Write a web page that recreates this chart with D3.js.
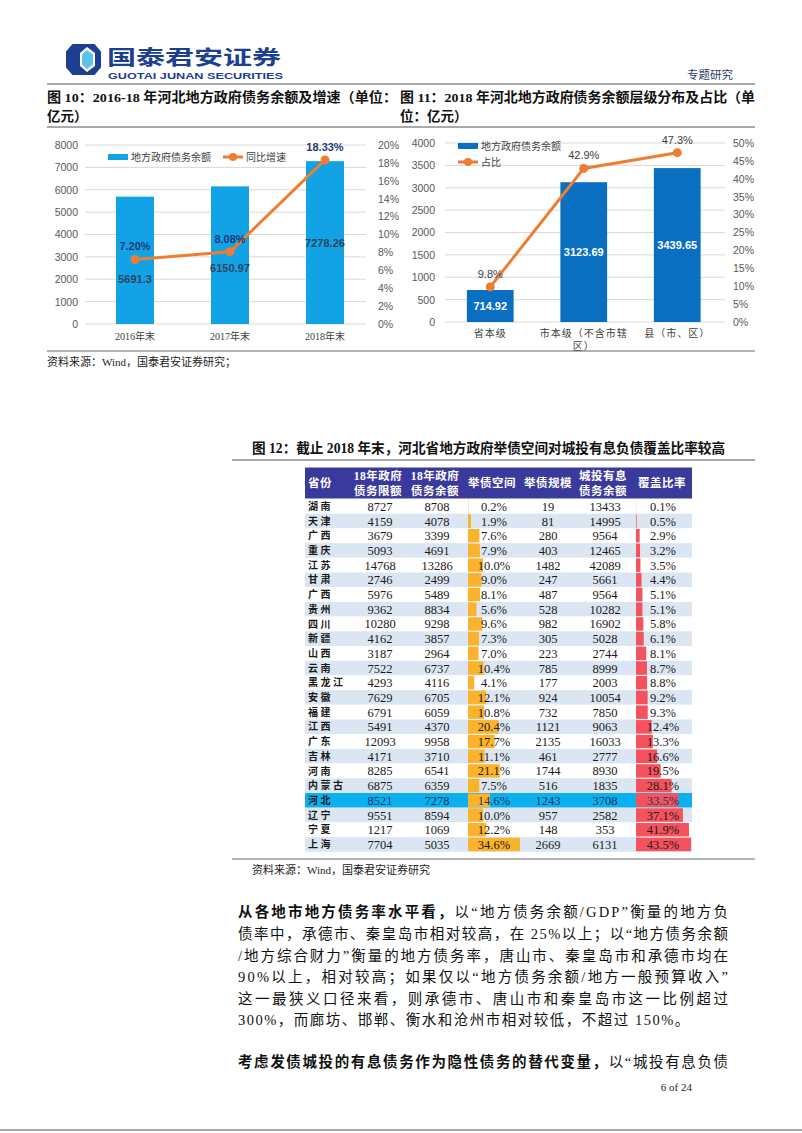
<!DOCTYPE html>
<html>
<head>
<meta charset="utf-8">
<style>
  body { margin: 0; background: #fff; }
  svg { display: block; }
  .yax .tick text { font-family: "Liberation Sans", Arial, sans-serif; font-size: 10.5px; fill: #595959; }
  .xax .tick text { font-family: "Liberation Serif", "Noto Sans CJK SC", serif; font-size: 10px; fill: #404040; }
</style>
</head>
<body>
<script src="https://d3js.org/d3.v7.min.js"></script>
<script>
// ---- figure 10: debt balance and growth
var years = ["2016年末", "2017年末", "2018年末"];
var balance = [5691.3, 6150.97, 7278.26];
var growth = [7.20, 8.08, 18.33];
var balanceTicks = [0, 1000, 2000, 3000, 4000, 5000, 6000, 7000, 8000];
var growthTicks = [0, 2, 4, 6, 8, 10, 12, 14, 16, 18, 20];

// ---- figure 11: balance by government level
var levels = ["省本级", "市本级（不含市辖区）", "县（市、区）"];
var levelBalance = [714.92, 3123.69, 3439.65];
var levelShare = [9.8, 42.9, 47.3];
var levelTicks = [0, 500, 1000, 1500, 2000, 2500, 3000, 3500, 4000];
var shareTicks = [0, 5, 10, 15, 20, 25, 30, 35, 40, 45, 50];

// ---- figure 12: table
var provinces = ["湖南", "天津", "广西", "重庆", "江苏", "甘肃", "广西", "贵州", "四川", "新疆", "山西", "云南",
  "黑龙江", "安徽", "福建", "江西", "广东", "吉林", "河南", "内蒙古", "河北", "辽宁", "宁夏", "上海"];
var debtLimit = [8727, 4159, 3679, 5093, 14768, 2746, 5976, 9362, 10280, 4162, 3187, 7522,
  4293, 7629, 6791, 5491, 12093, 4171, 8285, 6875, 8521, 9551, 1217, 7704];
var debtBalance = [8708, 4078, 3399, 4691, 13286, 2499, 5489, 8834, 9298, 3857, 2964, 6737,
  4116, 6705, 6059, 4370, 9958, 3710, 6541, 6359, 7278, 8594, 1069, 5035];
var spaceRatio = [0.2, 1.9, 7.6, 7.9, 10.0, 9.0, 8.1, 5.6, 9.6, 7.3, 7.0, 10.4,
  4.1, 12.1, 10.8, 20.4, 17.7, 11.1, 21.1, 7.5, 14.6, 10.0, 12.2, 34.6];
var spaceSize = [19, 81, 280, 403, 1482, 247, 487, 528, 982, 305, 223, 785,
  177, 924, 732, 1121, 2135, 461, 1744, 516, 1243, 957, 148, 2669];
var lgfvDebt = [13433, 14995, 9564, 12465, 42089, 5661, 9564, 10282, 16902, 5028, 2744, 8999,
  2003, 10054, 7850, 9063, 16033, 2777, 8930, 1835, 3708, 2582, 353, 6131];
var coverRatio = [0.1, 0.5, 2.9, 3.2, 3.5, 4.4, 5.1, 5.1, 5.8, 6.1, 8.1, 8.7,
  8.8, 9.2, 9.3, 12.4, 13.3, 16.6, 19.5, 28.1, 33.5, 37.1, 41.9, 43.5];
var highlight = "河北";

var serif = '"Liberation Serif", "Noto Sans CJK SC", serif';
var cjk = '"Noto Sans CJK SC", sans-serif';
var sans = '"Liberation Sans", Arial, sans-serif';
var orange = "#ed7d31";

var svg = d3.select("body").append("svg")
    .attr("width", 802)
    .attr("height", 1133);

// ---------------- page header ----------------
var logo = svg.append("g");
logo.append("polygon")
    .attr("points", "73,45 94,45 100,52 100,67 94,74 73,74 67,67 67,52")
    .attr("fill", "#1d3f8f").attr("stroke", "#1d3f8f").attr("stroke-width", 2).attr("stroke-linejoin", "round");
logo.append("polygon")
    .attr("points", "87,47 95,53 95,66 87,72 80,66 80,53")
    .attr("fill", "#fff");
logo.append("polygon")
    .attr("points", "87,50 93,54.5 93,64.5 87,69 82,64.5 82,54.5")
    .attr("fill", "#5cc3ea");
svg.append("text")
    .attr("x", 107).attr("y", 65)
    .attr("textLength", 174).attr("lengthAdjust", "spacingAndGlyphs")
    .style("font-family", cjk).style("font-weight", 700).style("font-size", "20px")
    .attr("fill", "#1d3f8f")
    .text("国泰君安证券");
svg.append("text")
    .attr("x", 108).attr("y", 79)
    .attr("textLength", 175).attr("lengthAdjust", "spacingAndGlyphs")
    .style("font-family", sans).style("font-weight", 700).style("font-size", "8.5px")
    .attr("fill", "#1d3f8f")
    .text("GUOTAI JUNAN SECURITIES");
svg.append("text")
    .attr("x", 733).attr("y", 79).attr("text-anchor", "end")
    .style("font-family", cjk).style("font-size", "11.5px")
    .attr("fill", "#2b3a6b")
    .text("专题研究");
svg.append("line").attr("x1", 47).attr("x2", 755).attr("y1", 84).attr("y2", 84)
    .attr("stroke", "#555").attr("stroke-width", 1.2);

// figure titles
function boldTitle(x, y, txt, len) {
    var t = svg.append("text")
        .attr("x", x).attr("y", y)
        .style("font-family", serif).style("font-weight", 700).style("font-size", "13.5px")
        .attr("fill", "#111")
        .text(txt);
    if (len) t.attr("textLength", len).attr("lengthAdjust", "spacingAndGlyphs");
    return t;
}
boldTitle(47, 102, "图 10：2016-18 年河北地方政府债务余额及增速（单位：", 350);
boldTitle(47, 121, "亿元）");
boldTitle(400, 102, "图 11：2018 年河北地方政府债务余额层级分布及占比（单", 355);
boldTitle(400, 121, "位：亿元）");
svg.append("line").attr("x1", 47).attr("x2", 755).attr("y1", 127).attr("y2", 127)
    .attr("stroke", "#555").attr("stroke-width", 1);

// ---------------- figure 10 ----------------
var x10 = d3.scaleBand().domain(years).range([87.5, 372.5]).paddingInner(0.6).paddingOuter(0.3);
var y10 = d3.scaleLinear().domain([0, 8000]).range([324, 145]);
var y10r = d3.scaleLinear().domain([0, 20]).range([324, 145]);
var c10 = svg.append("g");

c10.selectAll(".grid").data(balanceTicks).enter().append("line")
    .attr("x1", 85).attr("x2", 366)
    .attr("y1", function(d) { return y10(d); })
    .attr("y2", function(d) { return y10(d); })
    .attr("stroke", "#d9d9d9").attr("stroke-width", 1);

c10.append("g").attr("class", "yax")
    .attr("transform", "translate(85,0)")
    .call(d3.axisLeft(y10).tickValues(balanceTicks).tickSize(0).tickPadding(7).tickFormat(d3.format("d")))
    .call(function(g) { g.select(".domain").remove(); });
c10.append("g").attr("class", "yax")
    .attr("transform", "translate(370,0)")
    .call(d3.axisRight(y10r).tickValues(growthTicks).tickSize(0).tickPadding(8)
        .tickFormat(function(d) { return d + "%"; }))
    .call(function(g) { g.select(".domain").remove(); });
c10.append("g").attr("class", "xax")
    .attr("transform", "translate(0,324)")
    .call(d3.axisBottom(x10).tickSize(0).tickPadding(9))
    .call(function(g) { g.select(".domain").remove(); });

c10.selectAll(".bar").data(balance).enter().append("rect")
    .attr("x", function(d, i) { return x10(years[i]); })
    .attr("width", x10.bandwidth())
    .attr("y", function(d) { return y10(d); })
    .attr("height", function(d) { return y10(0) - y10(d); })
    .attr("fill", "#12a3e6");

var line10 = d3.line()
    .x(function(d, i) { return x10(years[i]) + x10.bandwidth() / 2; })
    .y(function(d) { return y10r(d); });
c10.append("path").datum(growth)
    .attr("d", line10)
    .attr("fill", "none").attr("stroke", orange).attr("stroke-width", 3);
c10.selectAll(".dot").data(growth).enter().append("circle")
    .attr("cx", function(d, i) { return x10(years[i]) + x10.bandwidth() / 2; })
    .attr("cy", function(d) { return y10r(d); })
    .attr("r", 4.5).attr("fill", orange);

c10.selectAll(".pct").data(growth).enter().append("text")
    .attr("x", function(d, i) { return x10(years[i]) + x10.bandwidth() / 2; })
    .attr("y", function(d) { return y10r(d) - 13; })
    .attr("dy", "0.35em").attr("text-anchor", "middle")
    .style("font-family", sans).style("font-weight", 700).style("font-size", "11px")
    .attr("fill", "#1f3a78")
    .text(function(d) { return d.toFixed(2) + "%"; });
c10.selectAll(".val").data(balance).enter().append("text")
    .attr("x", function(d, i) { return x10(years[i]) + x10.bandwidth() / 2; })
    .attr("y", function(d) { return y10(d) + 82; })
    .attr("dy", "0.35em").attr("text-anchor", "middle")
    .style("font-family", sans).style("font-weight", 700).style("font-size", "11px")
    .attr("fill", "#2a4460")
    .text(function(d) { return d; });

// legend 10
c10.append("rect").attr("x", 108).attr("y", 154).attr("width", 20).attr("height", 6).attr("fill", "#12a3e6");
c10.append("text").attr("x", 131).attr("y", 157).attr("dy", "0.35em")
    .style("font-family", cjk).style("font-size", "10px").attr("fill", "#404040")
    .text("地方政府债务余额");
c10.append("line").attr("x1", 223).attr("x2", 243).attr("y1", 157).attr("y2", 157)
    .attr("stroke", orange).attr("stroke-width", 3);
c10.append("circle").attr("cx", 233).attr("cy", 157).attr("r", 4).attr("fill", orange);
c10.append("text").attr("x", 246).attr("y", 157).attr("dy", "0.35em")
    .style("font-family", cjk).style("font-size", "10px").attr("fill", "#404040")
    .text("同比增速");

// ---------------- figure 11 ----------------
var x11 = d3.scaleBand().domain(levels).range([443.5, 724]).paddingInner(0.5).paddingOuter(0.25);
var y11 = d3.scaleLinear().domain([0, 4000]).range([322, 143]);
var y11r = d3.scaleLinear().domain([0, 50]).range([322, 143]);
var c11 = svg.append("g");

c11.selectAll(".grid").data(levelTicks).enter().append("line")
    .attr("x1", 445).attr("x2", 725)
    .attr("y1", function(d) { return y11(d); })
    .attr("y2", function(d) { return y11(d); })
    .attr("stroke", "#d9d9d9").attr("stroke-width", 1);

c11.append("g").attr("class", "yax")
    .attr("transform", "translate(443,0)")
    .call(d3.axisLeft(y11).tickValues(levelTicks).tickSize(0).tickPadding(8).tickFormat(d3.format("d")))
    .call(function(g) { g.select(".domain").remove(); });
c11.append("g").attr("class", "yax")
    .attr("transform", "translate(725,0)")
    .call(d3.axisRight(y11r).tickValues(shareTicks).tickSize(0).tickPadding(8)
        .tickFormat(function(d) { return d + "%"; }))
    .call(function(g) { g.select(".domain").remove(); });
var xax11 = c11.append("g").attr("class", "xax")
    .attr("transform", "translate(0,322)")
    .call(d3.axisBottom(x11).tickSize(0).tickPadding(8))
    .call(function(g) { g.select(".domain").remove(); });
// wrap long category labels after 8 characters
xax11.selectAll(".tick text").style("letter-spacing", "1px").each(function(d) {
    var t = d3.select(this);
    if (d.length > 8) {
        t.text(null);
        t.append("tspan").attr("x", 0).text(d.slice(0, 8));
        t.append("tspan").attr("x", 0).attr("dy", "1.3em").text(d.slice(8));
    }
});

c11.selectAll(".bar").data(levelBalance).enter().append("rect")
    .attr("x", function(d, i) { return x11(levels[i]); })
    .attr("width", x11.bandwidth())
    .attr("y", function(d) { return y11(d); })
    .attr("height", function(d) { return y11(0) - y11(d); })
    .attr("fill", "#0a6fc1");

var line11 = d3.line()
    .x(function(d, i) { return x11(levels[i]) + x11.bandwidth() / 2; })
    .y(function(d) { return y11r(d); });
c11.append("path").datum(levelShare)
    .attr("d", line11)
    .attr("fill", "none").attr("stroke", orange).attr("stroke-width", 3);
c11.selectAll(".dot").data(levelShare).enter().append("circle")
    .attr("cx", function(d, i) { return x11(levels[i]) + x11.bandwidth() / 2; })
    .attr("cy", function(d) { return y11r(d); })
    .attr("r", 4.5).attr("fill", orange);

c11.selectAll(".pct").data(levelShare).enter().append("text")
    .attr("x", function(d, i) { return x11(levels[i]) + x11.bandwidth() / 2; })
    .attr("y", function(d) { return y11r(d) - 13; })
    .attr("dy", "0.35em").attr("text-anchor", "middle")
    .style("font-family", sans).style("font-size", "11px")
    .attr("fill", "#404040")
    .text(function(d) { return d.toFixed(1) + "%"; });
c11.selectAll(".val").data(levelBalance).enter().append("text")
    .attr("x", function(d, i) { return x11(levels[i]) + x11.bandwidth() / 2; })
    .attr("y", function(d) { return (y11(d) + y11(0)) / 2; })
    .attr("dy", "0.35em").attr("text-anchor", "middle")
    .style("font-family", sans).style("font-weight", 700).style("font-size", "11px")
    .attr("fill", "#fff")
    .text(function(d) { return d; });

// legend 11
c11.append("rect").attr("x", 458).attr("y", 143).attr("width", 20).attr("height", 6).attr("fill", "#0a6fc1");
c11.append("text").attr("x", 481).attr("y", 146).attr("dy", "0.35em")
    .style("font-family", cjk).style("font-size", "10px").attr("fill", "#404040")
    .text("地方政府债务余额");
c11.append("line").attr("x1", 458).attr("x2", 478).attr("y1", 162).attr("y2", 162)
    .attr("stroke", orange).attr("stroke-width", 3);
c11.append("circle").attr("cx", 468).attr("cy", 162).attr("r", 4).attr("fill", orange);
c11.append("text").attr("x", 481).attr("y", 162).attr("dy", "0.35em")
    .style("font-family", cjk).style("font-size", "10px").attr("fill", "#404040")
    .text("占比");

svg.append("line").attr("x1", 47).attr("x2", 755).attr("y1", 351).attr("y2", 351)
    .attr("stroke", "#666").attr("stroke-width", 1);
svg.append("text").attr("x", 47).attr("y", 366)
    .style("font-family", serif).style("font-size", "11px").attr("fill", "#222")
    .text("资料来源：Wind，国泰君安证券研究；");

// ---------------- figure 12 (table) ----------------
svg.append("text").attr("x", 252).attr("y", 453)
    .attr("textLength", 473).attr("lengthAdjust", "spacingAndGlyphs")
    .style("font-family", serif).style("font-weight", 700).style("font-size", "14px").attr("fill", "#111")
    .text("图 12：截止 2018 年末，河北省地方政府举债空间对城投有息负债覆盖比率较高");
svg.append("line").attr("x1", 232).attr("x2", 755).attr("y1", 460).attr("y2", 460)
    .attr("stroke", "#555").attr("stroke-width", 1);

var tLeft = 305, tRight = 692;
var rowY = d3.scaleBand().domain(d3.range(provinces.length)).range([499, 851.8]);
var spaceW = d3.scaleLinear().domain([0, d3.max(spaceRatio)]).range([0, 52]);
var coverW = d3.scaleLinear().domain([0, d3.max(coverRatio)]).range([0, 55]);
var colX = { name: 308, limit: 380, balance: 437, spaceBar: 468, space: 494, size: 548, lgfv: 605, coverBar: 636, cover: 663 };

var tbl = svg.append("g");
tbl.append("rect").attr("x", tLeft).attr("y", 467.5).attr("width", tRight - tLeft).attr("height", 31)
    .attr("fill", "#3a3a9c");
var heads = [
    { x: colX.name, lines: ["省份"], anchor: "start" },
    { x: colX.limit - 2, lines: ["18年政府", "债务限额"] },
    { x: colX.balance - 2, lines: ["18年政府", "债务余额"] },
    { x: colX.space - 2, lines: ["举债空间"] },
    { x: colX.size, lines: ["举债规模"] },
    { x: colX.lgfv - 2, lines: ["城投有息", "债务余额"] },
    { x: colX.cover - 1, lines: ["覆盖比率"] }
];
heads.forEach(function(h) {
    var t = tbl.append("text")
        .attr("text-anchor", h.anchor || "middle")
        .style("font-family", serif).style("font-weight", 700).style("font-size", "11.5px")
        .style("letter-spacing", "0.5px")
        .attr("fill", "#fff");
    h.lines.forEach(function(l, i) {
        t.append("tspan").attr("x", h.x)
            .attr("y", h.lines.length === 1 ? 487 : 480 + i * 14.5)
            .text(l);
    });
});

var rows = tbl.selectAll(".row").data(provinces).enter().append("g")
    .attr("transform", function(d, i) { return "translate(0," + rowY(i) + ")"; });
rows.append("rect")
    .attr("x", tLeft).attr("width", tRight - tLeft)
    .attr("height", rowY.bandwidth())
    .attr("fill", function(d, i) { return d === highlight ? "#0cb0ee" : (i % 2 ? "#dce6f2" : "#fff"); });
rows.append("rect")
    .attr("x", colX.spaceBar).attr("y", 0.6)
    .attr("width", function(d, i) { return spaceW(spaceRatio[i]); })
    .attr("height", rowY.bandwidth() - 1.2)
    .attr("fill", "#fbb22c");
rows.append("rect")
    .attr("x", colX.coverBar).attr("y", 0.6)
    .attr("width", function(d, i) { return coverW(coverRatio[i]); })
    .attr("height", rowY.bandwidth() - 1.2)
    .attr("fill", "#f4525c");

var cy = rowY.bandwidth() / 2;
function cell(x, fn, anchor) {
    rows.append("text")
        .attr("x", x).attr("y", cy).attr("dy", "0.36em")
        .attr("text-anchor", anchor || "middle")
        .style("font-family", serif).style("font-size", "12.5px")
        .attr("fill", function(d) { return d === highlight ? "#1c3660" : "#1a1a1a"; })
        .text(fn);
}
rows.append("text")
    .attr("x", colX.name).attr("y", cy).attr("dy", "0.36em")
    .style("font-family", cjk).style("font-weight", 700).style("font-size", "10px")
    .style("letter-spacing", "2.5px")
    .attr("fill", "#1a1a1a")
    .text(function(d) { return d; });
cell(colX.limit, function(d, i) { return debtLimit[i]; });
cell(colX.balance, function(d, i) { return debtBalance[i]; });
cell(colX.space, function(d, i) { return spaceRatio[i].toFixed(1) + "%"; });
cell(colX.size, function(d, i) { return spaceSize[i]; });
cell(colX.lgfv, function(d, i) { return lgfvDebt[i]; });
cell(colX.cover, function(d, i) { return coverRatio[i].toFixed(1) + "%"; });

svg.append("line").attr("x1", 232).attr("x2", 755).attr("y1", 859).attr("y2", 859)
    .attr("stroke", "#666").attr("stroke-width", 1);
svg.append("text").attr("x", 252).attr("y", 874)
    .style("font-family", serif).style("font-size", "11px").attr("fill", "#222")
    .text("资料来源：Wind，国泰君安证券研究");

// ---------------- body text ----------------
var paraLines = [
    { y: 912, bold: "从各地市地方债务率水平看，", text: "以“地方债务余额/GDP”衡量的地方负", justify: true },
    { y: 934, bold: "", text: "债率中，承德市、秦皇岛市相对较高，在 25%以上；以“地方债务余额", justify: true },
    { y: 956, bold: "", text: "/地方综合财力”衡量的地方债务率，唐山市、秦皇岛市和承德市均在", justify: true },
    { y: 977, bold: "", text: "90%以上，相对较高；如果仅以“地方债务余额/地方一般预算收入”", justify: true },
    { y: 999, bold: "", text: "这一最狭义口径来看，则承德市、唐山市和秦皇岛市这一比例超过", justify: true },
    { y: 1020, bold: "", text: "300%，而廊坊、邯郸、衡水和沧州市相对较低，不超过 150%。", justify: false },
    { y: 1062, bold: "考虑发债城投的有息债务作为隐性债务的替代变量，", text: "以“城投有息负债", justify: true }
];
paraLines.forEach(function(p) {
    var t = svg.append("text")
        .attr("x", 238).attr("y", p.y).attr("dy", "0.36em")
        .style("font-family", serif).style("font-size", "14.5px").attr("fill", "#111");
    if (p.bold) t.append("tspan").style("font-weight", 700).text(p.bold);
    t.append("tspan").text(p.text);
    if (p.justify) t.attr("textLength", 490).attr("lengthAdjust", "spacing");
    else t.style("letter-spacing", "1.5px");
});

svg.append("text").attr("x", 692).attr("y", 1091).attr("text-anchor", "end")
    .style("font-family", serif).style("font-size", "11px").attr("fill", "#222")
    .text("6 of 24");
svg.append("line").attr("x1", 0).attr("x2", 802).attr("y1", 1130).attr("y2", 1130)
    .attr("stroke", "#888").attr("stroke-width", 1.5);
</script>
</body>
</html>
